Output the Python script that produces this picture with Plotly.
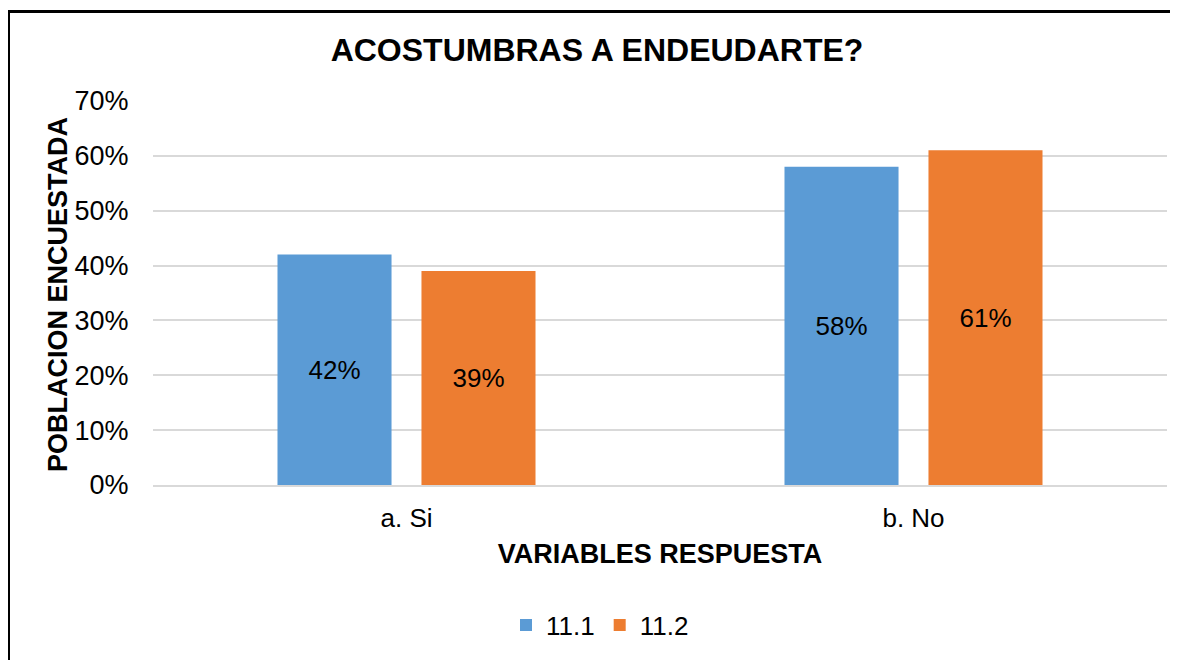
import plotly.graph_objects as go

categories = ["a. Si", "b. No"]
series_names = ["11.1", "11.2"]
values_111 = [0.42, 0.58]
values_112 = [0.39, 0.61]
colors = ["#5B9BD5", "#ED7D31"]
title_text = "ACOSTUMBRAS A ENDEUDARTE?"
x_title = "VARIABLES RESPUESTA"
y_title = "POBLACION ENCUESTADA"

FONT = "Liberation Sans, Arial, sans-serif"

fig = go.Figure()
for name, vals, col in zip(series_names, [values_111, values_112], colors):
    fig.add_trace(go.Bar(
        x=categories, y=vals, name=name,
        marker=dict(color=col, line=dict(width=0)),
        text=[f"{round(v*100)}%" for v in vals],
        textposition="inside", insidetextanchor="middle",
        textfont=dict(family=FONT, size=26, color="#000000"),
        textangle=0,
    ))

# page has an 8px body margin: work in page pixels, convert to figure pixels
OFF = 8
W, H = 1178 - OFF, 660 - OFF
L, T = 153 - OFF, 101 - OFF
R = 1178 - 1167
B = 660 - 485
pw, ph = W - L - R, H - T - B

def px_x(x):  # page px -> paper
    return (x - OFF - L) / pw

def px_y(y):
    return (485 - y) / ph

fig.update_layout(
    width=W, height=H,
    margin=dict(l=L, r=R, t=T, b=B),
    paper_bgcolor="white", plot_bgcolor="white",
    barmode="group", bargap=0.432, bargroupgap=0.208,
    font=dict(family=FONT, color="#000000"),
    title=dict(text=f"<b>{title_text}</b>", x=px_x(597), xref="paper", xanchor="center",
               y=1 - (50 - OFF) / H, yref="container", yanchor="middle",
               font=dict(family=FONT, size=32, color="#000000")),
    xaxis=dict(
        showgrid=False, showline=True, linecolor="#d9d9d9", linewidth=1.5,
        ticks="outside", ticklen=9, tickcolor="rgba(0,0,0,0)",
        tickfont=dict(family=FONT, size=26, color="#000000"),
        title=dict(text=f"<b>{x_title}</b>", standoff=12,
                   font=dict(family=FONT, size=27, color="#000000")),
    ),
    yaxis=dict(
        range=[0, 0.7], dtick=0.1, tickformat=".0%",
        showgrid=True, gridcolor="#d9d9d9", gridwidth=1.5,
        zeroline=False, showline=False,
        ticks="outside", ticklen=18, tickcolor="rgba(0,0,0,0)",
        tickfont=dict(family=FONT, size=27, color="#000000"),
    ),
    legend=dict(orientation="h", x=px_x(600), xanchor="center",
                y=px_y(625), yanchor="middle",
                font=dict(family=FONT, size=26, color="#000000"),
                itemwidth=30, traceorder="normal"),
    showlegend=True,
)

# y-axis title placed precisely
fig.add_annotation(text=f"<b>{y_title}</b>", xref="paper", yref="paper",
                   x=px_x(58), y=px_y(295), xanchor="center", yanchor="middle",
                   textangle=-90, showarrow=False,
                   font=dict(family=FONT, size=27, color="#000000"))

# outer chart border (left and top edges visible in reference)
fig.add_shape(type="line", xref="paper", yref="paper",
              x0=px_x(8.5), x1=px_x(8.5), y0=px_y(11.5), y1=px_y(700),
              line=dict(color="#000000", width=3))
fig.add_shape(type="line", xref="paper", yref="paper",
              x0=px_x(7), x1=px_x(1200), y0=px_y(11.5), y1=px_y(11.5),
              line=dict(color="#000000", width=3))

fig.write_html("out.html")
